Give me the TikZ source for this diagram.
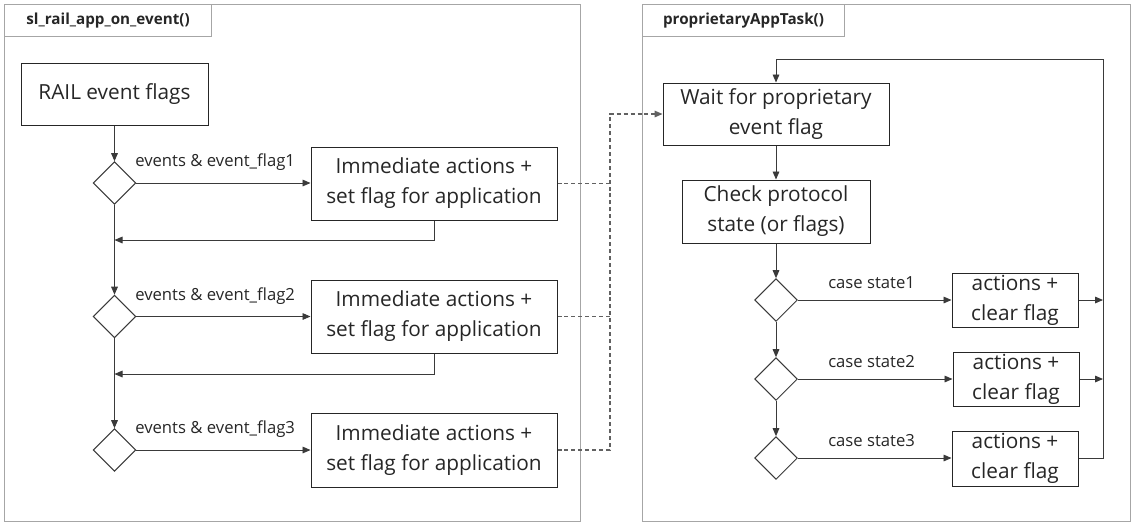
\documentclass[tikz,border=0pt]{standalone}
\usepackage{fontspec}
\setmainfont{Open Sans}
\usetikzlibrary{arrows.meta,shapes.geometric}
\definecolor{txt}{HTML}{262626}
\definecolor{frm}{HTML}{A6A6A6}
\definecolor{ln}{HTML}{3A3A3A}
\tikzset{
  box/.style={draw=txt,line width=0.75pt,text=txt,align=center,inner sep=0pt,font=\fontsize{15.6}{22.5}\selectfont},
  dia/.style={draw=ln,line width=0.7pt,diamond,inner sep=0pt,minimum width=32pt,minimum height=32pt,aspect=1},
  frame/.style={draw=frm,line width=0.8pt},
  tab/.style={draw=frm,line width=0.8pt,font=\bfseries\fontsize{11.4}{13}\selectfont,text=txt},
  lbl/.style={anchor=west,inner sep=0pt,text=txt,font=\fontsize{12.5}{14}\selectfont},
  conn/.style={draw=ln,line width=0.7pt,-{Triangle[length=6pt,width=5pt]}},
  plain/.style={draw=ln,line width=0.7pt},
  dashlink/.style={draw=ln!80,line width=0.8pt,dashed,dash pattern=on 3pt off 2.2pt}
}
\begin{document}
\begin{tikzpicture}[x=0.75pt,y=-0.75pt]
\useasboundingbox (0,0) rectangle (1144,526);
% frames
\node[frame,minimum width=576*0.75pt,minimum height=517*0.75pt,anchor=north west,inner sep=0pt] (fl) at (4,4) {};
\node[tab,minimum width=207*0.75pt,minimum height=32*0.75pt,anchor=north west,inner sep=0pt] (tl) at (4,4) {sl\_rail\_app\_on\_event()};
\node[frame,minimum width=488*0.75pt,minimum height=517*0.75pt,anchor=north west,inner sep=0pt] (fr) at (642,4) {};
\node[tab,minimum width=202*0.75pt,minimum height=32*0.75pt,anchor=north west,inner sep=0pt] (tr) at (642,4) {proprietaryAppTask()};
% left side
\node[box,minimum width=187*0.75pt,minimum height=62*0.75pt] (rail) at (114.5,94) {RAIL event flags};
\node[dia] (d1) at (114.5,183) {};
\node[dia] (d2) at (114.5,316.5) {};
\node[dia] (d3) at (114.5,450) {};
\node[box,minimum width=246*0.75pt,minimum height=73*0.75pt] (i1) at (434,183.5) {Immediate actions +\\set flag for application};
\node[box,minimum width=246*0.75pt,minimum height=73*0.75pt] (i2) at (434,316.5) {Immediate actions +\\set flag for application};
\node[box,minimum width=246*0.75pt,minimum height=74*0.75pt] (i3) at (434,450) {Immediate actions +\\set flag for application};
\node[lbl] (l1) at (135,162) {events \& event\_flag1};
\node[lbl] (l2) at (135,296) {events \& event\_flag2};
\node[lbl] (l3) at (135,429) {events \& event\_flag3};
\coordinate (r1) at (114.5,240);
\coordinate (r2) at (114.5,374);
\coordinate (j) at (610,114);
\path[conn] (rail.south) -- (d1.north);
\path[conn] (d1.south) -- (d2.north);
\path[conn] (d2.south) -- (d3.north);
\path[conn] (d1.east) -- (d1.east -| i1.west);
\path[conn] (d2.east) -- (d2.east -| i2.west);
\path[conn] (d3.east) -- (d3.east -| i3.west);
\path[conn] (i1.south) |- (r1);
\path[conn] (i2.south) |- (r2);
% right side
\node[box,minimum width=226*0.75pt,minimum height=62*0.75pt] (wait) at (776,114) {Wait for proprietary\\event flag};
\node[box,minimum width=188*0.75pt,minimum height=63*0.75pt] (chk) at (776,211.5) {Check protocol\\state (or flags)};
\node[dia] (e1) at (776,300) {};
\node[dia] (e2) at (776,379) {};
\node[dia] (e3) at (776,458) {};
\node[box,minimum width=126*0.75pt,minimum height=54*0.75pt] (a1) at (1015,300) {actions +\\clear flag};
\node[box,minimum width=126*0.75pt,minimum height=54*0.75pt] (a2) at (1016,379) {actions +\\clear flag};
\node[box,minimum width=126*0.75pt,minimum height=55*0.75pt] (a3) at (1015,458.5) {actions +\\clear flag};
\node[lbl] (c1) at (828,283) {case state1};
\node[lbl] (c2) at (828,362) {case state2};
\node[lbl] (c3) at (828,441) {case state3};
\coordinate (top) at (1103,59);
\coordinate (m1) at (1103,300);
\coordinate (m2) at (1103,379);
\path[conn] (wait.south) -- (chk.north);
\path[conn] (chk.south) -- (e1.north);
\path[conn] (e1.south) -- (e2.north);
\path[conn] (e2.south) -- (e3.north);
\path[conn] (e1.east) -- (e1.east -| a1.west);
\path[conn] (e2.east) -- (e2.east -| a2.west);
\path[conn] (e3.east) -- (e3.east -| a3.west);
\path[conn] (a1.east) -- (m1);
\path[conn] (a2.east) -- (m2);
\path[conn] (a3.east) -| (top) -| (wait.north);
% dashed links
\path[dashlink] (i1.east) -- (i1.east -| j);
\path[dashlink] (i2.east) -- (i2.east -| j);
\path[dashlink,-{Triangle[length=6pt,width=5pt]}] (i3.east) -| (j) -- (wait.west);
\end{tikzpicture}
\end{document}
